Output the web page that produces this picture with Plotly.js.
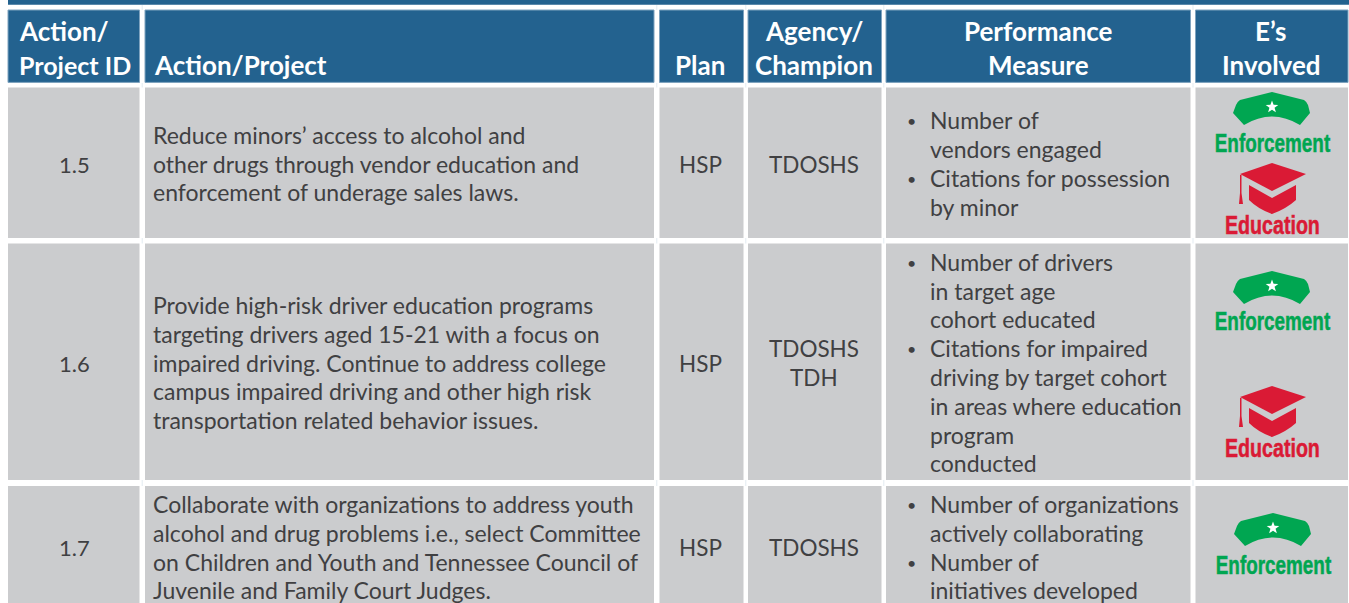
<!DOCTYPE html>
<html><head><meta charset="utf-8">
<script src="https://cdn.plot.ly/plotly-3.0.1.min.js"></script>
<style>html,body{margin:0;padding:0;background:#fff}#c{width:1349px;height:603px}</style>
</head><body><div id="c"></div>
<script>
const headerCells = [["Action/","Project ID"],["Action/Project"],["Plan"],["Agency/","Champion"],["Performance","Measure"],["E’s","Involved"]];
const ids = ["1.5","1.6","1.7"];
const actions = [
 ["Reduce minors’ access to alcohol and","other drugs through vendor education and","enforcement of underage sales laws."],
 ["Provide high-risk driver education programs","targeting drivers aged 15-21 with a focus on","impaired driving. Continue to address college","campus impaired driving and other high risk","transportation related behavior issues."],
 ["Collaborate with organizations to address youth","alcohol and drug problems i.e., select Committee","on Children and Youth and Tennessee Council of","Juvenile and Family Court Judges."]
];
const plans = ["HSP","HSP","HSP"];
const agencies = [["TDOSHS"],["TDOSHS","TDH"],["TDOSHS"]];
const measures = [
 ["Number of","vendors engaged","Citations for possession","by minor"],
 ["Number of drivers","in target age","cohort educated","Citations for impaired","driving by target cohort","in areas where education","program","conducted"],
 ["Number of organizations","actively collaborating","Number of","initiatives developed"]
];
const bulletLines = [[0,2],[0,3],[0,2]];
const es = [["Enforcement","Education"],["Enforcement","Education"],["Enforcement"]];

const COLX = [[8,139.5],[145,654],[659.5,743.5],[748,881.5],[886,1190.5],[1195.5,1348]];
const ROWY = [[87.5,238],[243.5,480],[486,610]];
const actionY = [[135,164,192],[305,334,363,391,420],[504,533,562,590]];
const measureY = [[120,149,178,207],[262,291,319,348,377,406,435,463],[504,533,562,590]];
const idY = [164,363,547];
const agencyY = [[164],[348,377],[547]];
const iconY = [[{cap:92,t:143},{hat:163,t:225}],[{cap:271,t:321},{hat:386,t:448}],[{cap:513,t:565}]];
const gapX = [142.2,656.8,745.8,883.8,1193];
const gapY = [[5,10],[83,87.5],[238,243.5],[480,486]];

const FONT='Lato, sans-serif', NARROW='"Liberation Sans",sans-serif';
const HEAD='#23628f', GREY='#cbccce', TXT='#404042', GREEN='#00a651', RED='#da1a35';
const shapes=[], annotations=[];
function rect(x0,y0,x1,y1,fill,line){shapes.push({type:'rect',xref:'x',yref:'y',x0,y0,x1,y1,fillcolor:fill,line:{color:line||fill,width:line?1:0},layer:'below'});}
function path(d,fill){shapes.push({type:'path',xref:'x',yref:'y',path:d,fillcolor:fill,line:{width:0},layer:'above'});}
function text(t,x,y,size,color,anchor,bold,family){annotations.push({text:bold?'<b>'+t+'</b>':t,x,y,xref:'x',yref:'y',showarrow:false,xanchor:anchor,yanchor:'middle',borderpad:0,borderwidth:0,font:{family:family||FONT,size,color}});}
function poly(pts,cx,cy){return 'M'+pts.map(p=>(cx+p[0])+','+(cy+p[1])).join(' L')+' Z';}
function cap(cx,y){
 const p=(a,b)=>(cx+a)+','+(y+b);
 path('M'+p(0,0)+' L'+p(32,8)+' Q'+p(35,10)+' '+p(36,13)+' L'+p(38,21)+' L'+p(28,33)+' Q'+p(0,16)+' '+p(-28,33)+' L'+p(-39,21)+' L'+p(-36,13)+' Q'+p(-35,10)+' '+p(-32,8)+' Z',GREEN);
 const star=[];for(let i=0;i<10;i++){const r=i%2?2.7:6.6,a=-Math.PI/2+i*Math.PI/5;star.push([r*Math.cos(a),15+r*Math.sin(a)]);}
 path(poly(star,cx,y),'#ffffff');
}
function hat(cx,y){
 const p=(a,b)=>(cx+a)+','+(y+b);
 path(poly([[0,0],[34,11],[0,28],[-32,11]],cx,y),RED);
 path('M'+p(-23,22)+' L'+p(0,35)+' L'+p(24,22)+' L'+p(24,37)+' Q'+p(14,46)+' '+p(0,51)+' Q'+p(-14,46)+' '+p(-23,37)+' Z',RED);
 path(poly([[-32,12],[-30.5,12],[-30.5,30],[-29,41],[-33,41],[-32,30]],cx,y),RED);
}

rect(8,-2,1349,4.7,HEAD);
COLX.forEach(c=>rect(c[0],10,c[1],82.4,HEAD,'#7fa3bf'));
ROWY.forEach(r=>COLX.forEach(c=>rect(c[0],r[0],c[1],r[1],GREY)));
gapX.forEach(x=>gapY.forEach(g=>shapes.push({type:'line',xref:'x',yref:'y',x0:x,x1:x,y0:g[0],y1:g[1],line:{color:'#e3ebf1',width:1},layer:'below'})));

const headerX=[19,154,700,814,1038,1271], headerAnchor=['left','left','center','center','center','center'];
headerCells.forEach((h,i)=>{
 const ys=h.length===2?[31,65]:[65];
 h.forEach((t,j)=>text(t,headerX[i],ys[j],t==='Project ID'?25:26,'#ffffff',headerAnchor[i],true));
});
ids.forEach((t,r)=>{
 text(t,74,idY[r],22,TXT,'center');
 text(plans[r],700,idY[r],22.5,TXT,'center');
 actions[r].forEach((l,i)=>text(l,153,actionY[r][i],23,TXT,'left'));
 agencies[r].forEach((l,i)=>text(l,814,agencyY[r][i],22.5,TXT,'center'));
 measures[r].forEach((l,i)=>text(l,930,measureY[r][i],23,TXT,'left'));
 bulletLines[r].forEach(i=>text('•',911,measureY[r][i],16,TXT,'center'));
 es[r].forEach((e,i)=>{
  const pos=iconY[r][i], cx=r===2?1273:1272;
  if(pos.cap!==undefined)cap(cx,pos.cap); else hat(cx,pos.hat);
  text(e,cx,pos.t,25,e==='Enforcement'?GREEN:RED,'center',true,NARROW);
 });
});

const fitWidth={Enforcement:116,Education:95};
Plotly.newPlot('c',[],{
 width:1349,height:603,margin:{l:0,r:0,t:0,b:0},paper_bgcolor:'#fff',plot_bgcolor:'#fff',showlegend:false,
 xaxis:{range:[0,1349],visible:false,fixedrange:true},
 yaxis:{range:[603,0],visible:false,fixedrange:true},
 shapes,annotations
},{displayModeBar:false,staticPlot:true}).then(()=>{
 document.querySelectorAll('.annotation-text').forEach(n=>{
  const w=fitWidth[n.textContent];
  if(w){
   const b=n.getBBox(), c=b.x+b.width/2;
   n.setAttribute('transform','translate('+c+' 0) scale('+(w/b.width)+' 1) translate('+(-c)+' 0)');
   n.style.stroke=n.style.fill; n.style.strokeWidth='0.5px';
  }
 });
});
</script></body></html>
